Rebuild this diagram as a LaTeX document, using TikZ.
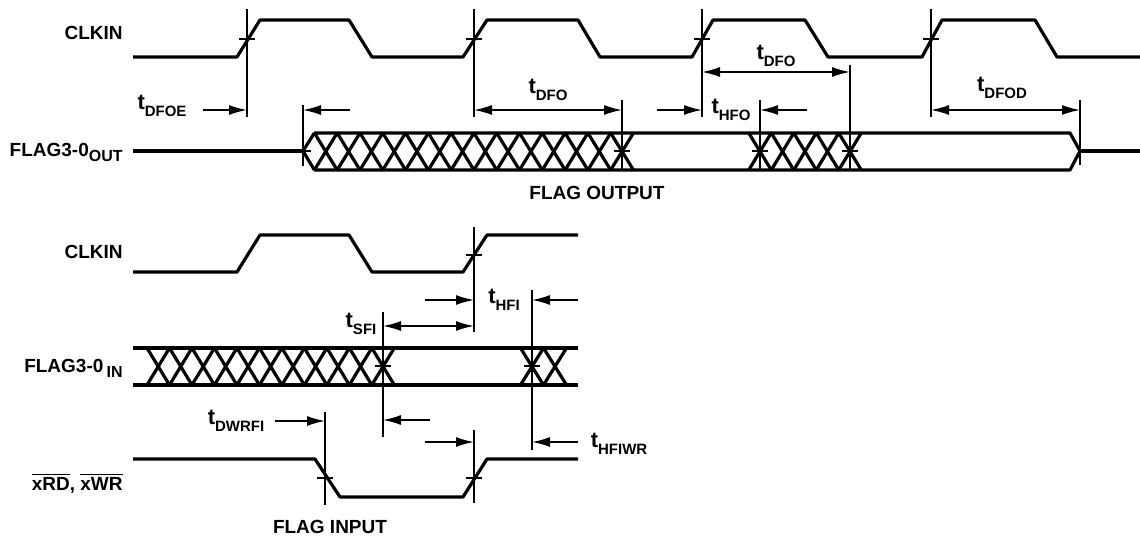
\documentclass[tikz,border=0pt]{standalone}
\usepackage{fontspec}
\setmainfont{Liberation Sans}
\usetikzlibrary{arrows.meta}

\tikzset{
  sig/.style={line width=1.6pt, line join=round},
  refl/.style={line width=0.6pt},
  tick/.style={line width=0.8pt},
  onearr/.style={line width=0.8pt, -{Latex[length=9pt,width=5pt]}},
  twoarr/.style={line width=0.8pt, {Latex[length=9pt,width=5pt]}-{Latex[length=9pt,width=5pt]}},
  lbl/.style={font=\bfseries\fontsize{9.5}{10}\selectfont, inner sep=1pt},
  tlbl/.style={font=\bfseries\fontsize{11}{12}\selectfont, inner sep=1pt}
}
\newcommand{\tsub}[1]{t\raisebox{-0.55ex}{\fontsize{7.5}{8}\selectfont #1}}
\newcommand{\lsub}[1]{\raisebox{-0.5ex}{\fontsize{8}{8}\selectfont #1}}

\begin{document}
\begin{tikzpicture}[x=0.5pt,y=-0.5pt]
\useasboundingbox (0,0) rectangle (1140,540);

% signal names
\node[lbl,anchor=east] (clk-a) at (125,33) {CLKIN};
\node[lbl,anchor=east] (flag-out) at (125,152) {FLAG3-0\lsub{OUT}};
\node[lbl,anchor=east] (clk-b) at (125,252) {CLKIN};
\node[lbl,anchor=east] (flag-in) at (125,368) {FLAG3-0\,\lsub{IN}};
\node[lbl,anchor=east] (rdwr) at (125,483) {$\overline{\mbox{xRD}}$, $\overline{\mbox{xWR}}$};
\node[lbl] (cap-out) at (597,193) {FLAG OUTPUT};
\node[lbl] (cap-in) at (330,527) {FLAG INPUT};

%%% flag output
\draw[sig] (133,57) -- (237,57) -- (260,20) -- (349,20) -- (372,57) -- (463,57) -- (487,20)
  -- (578,20) -- (600,57) -- (692,57) -- (713,20) -- (805,20) -- (828,57) -- (922,57)
  -- (942,20) -- (1035,20) -- (1057,57) -- (1140,57);

\coordinate (r1) at (247,39);
\coordinate (r2) at (474,39);
\coordinate (r3) at (702,39);
\coordinate (r4) at (931,39);
\foreach \c in {r1,r2,r3,r4}{
  \draw[refl] (\c) ++(0,-30) -- ++(0,108);
  \draw[tick] (\c) ++(-8,0) -- ++(16,0);
}

% bus
\draw[sig] (133,151) -- (303,151);
\draw[sig] (314,133) -- (1070,133) -- (1080,151) -- (1070,170) -- (314,170);
\draw[sig] (1080,151) -- (1140,151);
\draw[sig] (303,151) -- (314.4,133) (303,151) -- (314.4,170);
\foreach \k in {1,...,14}
  \draw[sig] ({303+\k*22.79-11.4},133) -- ({303+\k*22.79+11.4},170)
             ({303+\k*22.79-11.4},170) -- ({303+\k*22.79+11.4},133);
\foreach \k in {0,...,4}
  \draw[sig] ({760+\k*22.5-11.25},133) -- ({760+\k*22.5+11.25},170)
             ({760+\k*22.5-11.25},170) -- ({760+\k*22.5+11.25},133);

\coordinate (oe) at (303,151);
\coordinate (ov1) at (622,151);
\coordinate (oh) at (760,151);
\coordinate (ov2) at (850,151);
\coordinate (od) at (1080,151);
\draw[refl] (303,105) -- (303,166);
\draw[refl] (622,100) -- (622,170);
\draw[refl] (760,100) -- (760,170);
\draw[refl] (850,65) -- (850,170);
\draw[refl] (1080,100) -- (1080,165);
\foreach \c in {oe,ov1,oh,ov2}
  \draw[tick] (\c) ++(-8,0) -- ++(16,0);

% timings
\node[tlbl] (t-dfoe) at (162,106) {\tsub{DFOE}};
\draw[onearr] (203,110) -- (r1 |- 0,110);
\draw[onearr] (350,110) -- (oe |- 0,110);
\node[tlbl] (t-dfo1) at (548,90) {\tsub{DFO}};
\draw[twoarr] (r2 |- 0,110) -- (ov1 |- 0,110);
\node[tlbl] (t-dfo2) at (776,56) {\tsub{DFO}};
\draw[twoarr] (r3 |- 0,72) -- (ov2 |- 0,72);
\node[tlbl] (t-hfo) at (731,110) {\tsub{HFO}};
\draw[onearr] (657,110) -- (r3 |- 0,110);
\draw[onearr] (807,110) -- (oh |- 0,110);
\node[tlbl] (t-dfod) at (1002,88) {\tsub{DFOD}};
\draw[twoarr] (r4 |- 0,110) -- (od |- 0,110);

%%% flag input
\draw[sig] (133,272) -- (237,272) -- (260,235) -- (349,235) -- (372,272) -- (463,272)
  -- (487,235) -- (578,235);
\coordinate (r5) at (474,255);
\draw[refl] (474,227) -- (474,332);
\draw[tick] (r5) ++(-8,0) -- ++(16,0);

% bus
\draw[sig] (133,348) -- (578,348) (133,385) -- (578,385);
\foreach \k in {0,...,10}
  \draw[sig] ({147+\k*22.48},348) -- ({147+(\k+1)*22.48},385)
             ({147+\k*22.48},385) -- ({147+(\k+1)*22.48},348);
\foreach \k in {0,1}
  \draw[sig] ({532+\k*23-11.5},348) -- ({532+\k*23+11.5},385)
             ({532+\k*23-11.5},385) -- ({532+\k*23+11.5},348);
\coordinate (is) at (383,366);
\coordinate (ih) at (532,366);
\draw[refl] (383,312) -- (383,437);
\draw[refl] (532,290) -- (532,450);
\foreach \c in {is,ih}
  \draw[tick] (\c) ++(-8,0) -- ++(16,0);

% xRD, xWR
\draw[sig] (133,459) -- (315,459) -- (340,497) -- (463,497) -- (487,459) -- (578,459);
\coordinate (w1) at (325,478);
\coordinate (w2) at (474,478);
\draw[refl] (325,412) -- (325,505);
\draw[refl] (474,430) -- (474,503);
\foreach \c in {w1,w2}
  \draw[tick] (\c) ++(-8,0) -- ++(16,0);

% timings
\node[tlbl] (t-hfi) at (504,300) {\tsub{HFI}};
\draw[onearr] (425,300) -- (r5 |- 0,300);
\draw[onearr] (578,300) -- (ih |- 0,300);
\node[tlbl] (t-sfi) at (361,324) {\tsub{SFI}};
\draw[twoarr] (is |- 0,326) -- (r5 |- 0,326);
\node[tlbl] (t-dwrfi) at (236,421) {\tsub{DWRFI}};
\draw[onearr] (275,421) -- (w1 |- 0,421);
\draw[onearr] (430,420) -- (is |- 0,420);
\draw[onearr] (425,442) -- (w2 |- 0,442);
\node[tlbl] (t-hfiwr) at (619,444) {\tsub{HFIWR}};
\draw[onearr] (578,442) -- (ih |- 0,442);

\end{tikzpicture}
\end{document}
